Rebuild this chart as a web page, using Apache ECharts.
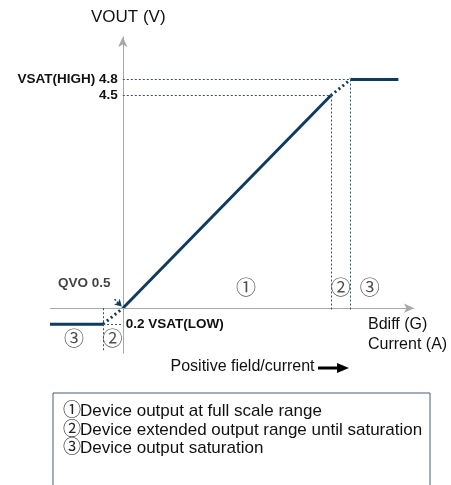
<!DOCTYPE html>
<html><head><meta charset="utf-8">
<script src="https://cdn.jsdelivr.net/npm/echarts@6/dist/echarts.min.js"></script>
<style>html,body{margin:0;padding:0;background:#fff}#c{width:451px;height:485px}</style>
</head><body><div id="c"></div>
<script>
// ---- data (schematic: field in arbitrary units, output in volts) ----
const fieldRange = [-1.4, 5.6];
const voutRange = [-0.35, 5.6];
const lowSaturation = [[-1.4, 0.2], [-0.38, 0.2]];
const lowExtension = [[-0.38, 0.2], [0, 0.5]];
const fullScale = [[0, 0.5], [4, 4.5]];
const highExtension = [[4, 4.5], [4.38, 4.8]];
const highSaturation = [[4.38, 4.8], [5.3, 4.8]];
const levelLabels = ['VSAT(HIGH) 4.8', '4.5', 'QVO 0.5', '0.2 VSAT(LOW)'];
const regionMarks = [
  { name: '①', value: [2.37, 0.86] },
  { name: '②', value: [4.19, 0.86] },
  { name: '③', value: [4.75, 0.86] },
  { name: '③', value: [-0.94, -0.11] },
  { name: '②', value: [-0.2, -0.11] }
];
const qvoLabelPos = [-0.74, 0.97];
const legendLines = [
  ['①', 'Device output at full scale range'],
  ['②', 'Device extended output range until saturation'],
  ['③', 'Device output saturation']
];

const NAVY = '#0f3b5f';
const GUIDE = '#36546f';
const AX = '#a8a8a8';
const FONT = '"Liberation Sans", Arial, "Noto Sans CJK SC", sans-serif';

const chart = echarts.init(document.getElementById('c'));
const solid = (name, data) => ({
  name, type: 'line', data, symbol: 'none', silent: true,
  lineStyle: { color: NAVY, width: 3 }
});
const dotted = (name, data) => ({
  name, type: 'line', data, symbol: 'none', silent: true,
  lineStyle: { color: NAVY, width: 3, type: [2, 3] }
});
const guideStyle = { color: GUIDE, width: 1, type: [2, 2] };
const boldLbl = { color: '#111', fontSize: 13.5, fontWeight: 'bold', fontFamily: FONT };

chart.setOption({
  animation: false,
  grid: { left: 50, top: 37, width: 364, height: 316.4, containLabel: false, outerBoundsMode: 'none' },
  xAxis: {
    type: 'value', min: fieldRange[0], max: fieldRange[1],
    axisLine: { show: false, onZero: true }, axisTick: { show: false },
    axisLabel: { show: false }, splitLine: { show: false },
    name: 'Bdiff (G)\nCurrent (A)', nameLocation: 'end', nameGap: -46,
    nameTextStyle: { align: 'left', verticalAlign: 'middle', fontSize: 16, lineHeight: 20, color: '#111', fontFamily: FONT }
  },
  yAxis: {
    type: 'value', min: voutRange[0], max: voutRange[1],
    axisLine: { show: true, onZero: true, symbol: ['none', 'arrow'], symbolSize: [7, 10], lineStyle: { color: AX, width: 1 } },
    axisTick: { show: false }, axisLabel: { show: false }, splitLine: { show: false },
    name: 'VOUT (V)', nameLocation: 'end', nameGap: 11,
    nameTextStyle: { fontSize: 17, color: '#111', fontFamily: FONT, padding: [0, 0, 0, 11] }
  },
  series: [
    {
      name: 'axis', type: 'line', data: [], silent: true,
      markLine: {
        silent: true, symbol: ['none', 'arrow'], symbolSize: [7, 10],
        lineStyle: { color: AX, width: 1, type: 'solid' }, label: { show: false },
        data: [{ yAxis: 0.5 }]
      }
    },
    {
      name: 'guides', type: 'line', data: [], silent: true,
      markLine: {
        silent: true, symbol: ['none', 'none'], lineStyle: guideStyle,
        label: Object.assign({ show: true, distance: 5 }, boldLbl),
        data: [
          [{ coord: [0, 4.8], label: { position: 'start', formatter: levelLabels[0] } }, { coord: [4.38, 4.8] }],
          [{ coord: [0, 4.5], label: { position: 'start', formatter: levelLabels[1] } }, { coord: [4, 4.5] }],
          [{ coord: [-0.38, 0.2], label: { position: 'end', distance: 3, formatter: levelLabels[3] } }, { coord: [0, 0.2] }],
          [{ coord: [4, 4.5], label: { show: false } }, { coord: [4, 0.46] }],
          [{ coord: [4.38, 4.8], label: { show: false } }, { coord: [4.38, 0.46] }],
          [{ coord: [-0.38, 0.5], label: { show: false } }, { coord: [-0.38, -0.29] }]
        ]
      }
    },
    {
      name: 'qvoArrow', type: 'line', data: [], silent: true,
      markLine: {
        silent: true, symbol: ['none', 'arrow'], symbolSize: [6, 7],
        lineStyle: { color: NAVY, width: 1.5, type: [2, 1.5] }, label: { show: false },
        data: [[{ coord: [-0.16, 0.67] }, { coord: [-0.02, 0.53] }]]
      }
    },
    solid('low saturation', lowSaturation),
    dotted('low extension', lowExtension),
    solid('full scale', fullScale),
    dotted('high extension', highExtension),
    solid('high saturation', highSaturation),
    {
      name: 'regions', type: 'scatter', data: regionMarks, symbolSize: 0, silent: true,
      label: { show: true, position: 'inside', formatter: p => p.name, fontSize: 20, color: '#222', fontFamily: FONT }
    },
    {
      name: 'qvo', type: 'scatter', data: [{ name: levelLabels[2], value: qvoLabelPos }], symbolSize: 0, silent: true,
      label: Object.assign({ show: true, position: 'inside', formatter: p => p.name }, boldLbl)
    }
  ],
  graphic: [
    { type: 'text', left: 170.5, top: 359, style: { text: 'Positive field/current', fontSize: 16, fill: '#111', fontFamily: FONT } },
    { type: 'line', shape: { x1: 318, y1: 368, x2: 340, y2: 368 }, style: { stroke: '#000', lineWidth: 3 } },
    { type: 'polygon', shape: { points: [[337, 363], [349, 368], [337, 373]] }, style: { fill: '#000' } },
    { type: 'rect', shape: { x: 53, y: 393, width: 377, height: 110 }, style: { fill: 'none', stroke: '#4a5b70', lineWidth: 1 } },
  ].concat(legendLines.flatMap((l, i) => [
    { type: 'text', x: 63, y: 411.5 + i * 18.5, style: { text: l[0], fontSize: 18, fill: '#222', fontFamily: FONT, verticalAlign: 'middle' } },
    { type: 'text', x: 80, y: 411.5 + i * 18.5, style: { text: l[1], fontSize: 17, fill: '#111', fontFamily: FONT, verticalAlign: 'middle' } }
  ]))
});
</script></body></html>
